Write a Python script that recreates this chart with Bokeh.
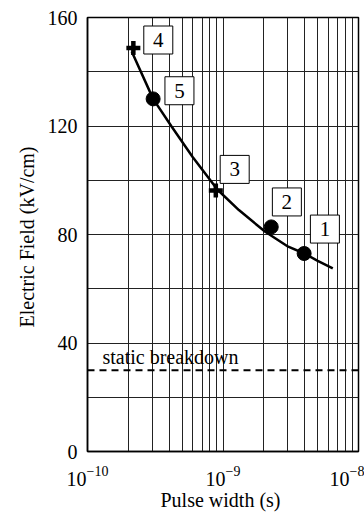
from bokeh.plotting import figure
from bokeh.models import FixedTicker, Span, ColumnDataSource
from bokeh.core.properties import value
from bokeh.embed import file_html
from bokeh.resources import INLINE

# ---- data ----
curve_t = [2.12e-10, 3.05e-10, 4.15e-10, 5.97e-10, 9.12e-10, 1.31e-9, 2.05e-9, 3.03e-9, 3.98e-9, 5.0e-9, 6.46e-9]
curve_e = [147.5, 130.0, 120.0, 108.6, 96.5, 89.0, 81.0, 75.5, 73.0, 70.3, 67.5]

circle_t = [3.05e-10, 2.27e-9, 3.97e-9]
circle_e = [130.0, 82.8, 73.0]

plus_t = [2.18e-10, 8.85e-10]
plus_e = [148.8, 96.2]

label_text = ["4", "5", "3", "2", "1"]
label_t = [3.33e-10, 4.77e-10, 1.22e-9, 2.96e-9, 5.65e-9]
label_e = [151.7, 133.0, 104.0, 92.0, 82.0]

static_breakdown = 30.0
static_label = "static breakdown"
static_label_t = 1.29e-10
static_label_e = 34.8

x_major = [1e-10, 1e-9, 1e-8]
x_minor = [m * 10.0 ** e for e in (-10, -9) for m in range(2, 10)]
y_major = [0, 40, 80, 120, 160]
y_minor = [20, 60, 100, 140]

FONT = "Liberation Serif"

p = figure(width=364, height=513, x_axis_type="log",
           x_range=(1e-10, 1e-8), y_range=(0, 160),
           output_backend="svg", toolbar_location=None,
           min_border_left=87, min_border_right=6,
           min_border_top=17, min_border_bottom=61)

p.background_fill_color = "white"
p.border_fill_color = "white"
p.outline_line_color = "black"
p.outline_line_width = 1.5

p.xaxis.ticker = FixedTicker(ticks=x_major, minor_ticks=x_minor)
p.yaxis.ticker = FixedTicker(ticks=y_major, minor_ticks=y_minor)

for ax in (p.xaxis[0], p.yaxis[0]):
    ax.major_tick_line_color = None
    ax.minor_tick_line_color = None
    ax.major_tick_out = 0
    ax.minor_tick_out = 0
    ax.major_tick_in = 0
    ax.minor_tick_in = 0
    ax.axis_line_color = "black"
    ax.axis_line_width = 1.5
    ax.major_label_text_font = FONT
    ax.major_label_text_font_size = "20px"
    ax.major_label_text_color = "black"
    ax.axis_label_text_font = FONT
    ax.axis_label_text_font_size = "20px"
    ax.axis_label_text_font_style = "normal"
    ax.axis_label_text_color = "black"

p.xaxis.axis_label = "Pulse width  (s)"
p.yaxis.axis_label = "Electric Field  (kV/cm)"
p.xaxis.major_label_standoff = 14
p.yaxis.major_label_standoff = 10
p.xaxis.axis_label_standoff = 0
p.yaxis.axis_label_standoff = 7

for g in (p.xgrid[0], p.ygrid[0]):
    g.grid_line_color = "#222222"
    g.grid_line_width = 1
    g.minor_grid_line_color = "#222222"
    g.minor_grid_line_width = 1

# static breakdown line
p.add_layout(Span(location=static_breakdown, dimension="width",
                  line_color="black", line_width=2, line_dash="7 5"))
p.text(x=[static_label_t], y=[static_label_e], text=[static_label],
       text_font=value(FONT), text_font_size="20px", text_color="black",
       text_baseline="alphabetic", text_align="left")

# fitted curve
p.line(curve_t, curve_e, line_color="black", line_width=2.5)

# data markers
p.scatter(circle_t, circle_e, marker="circle", size=14,
          fill_color="black", line_color="black")
p.scatter(plus_t, plus_e, marker="cross", size=14,
          line_color="black", line_width=4.5)

# numbered boxes
src = ColumnDataSource(dict(x=label_t, y=label_e, t=label_text))
p.rect(x="x", y="y", width=29, height=28, width_units="screen",
       height_units="screen", source=src, fill_color="white",
       line_color="black", line_width=1)
p.text(x="x", y="y", text="t", source=src, text_font=value(FONT),
       text_font_size="21px", text_color="black",
       text_align="center", text_baseline="middle")

open("out.html", "w").write(file_html(p, INLINE))
